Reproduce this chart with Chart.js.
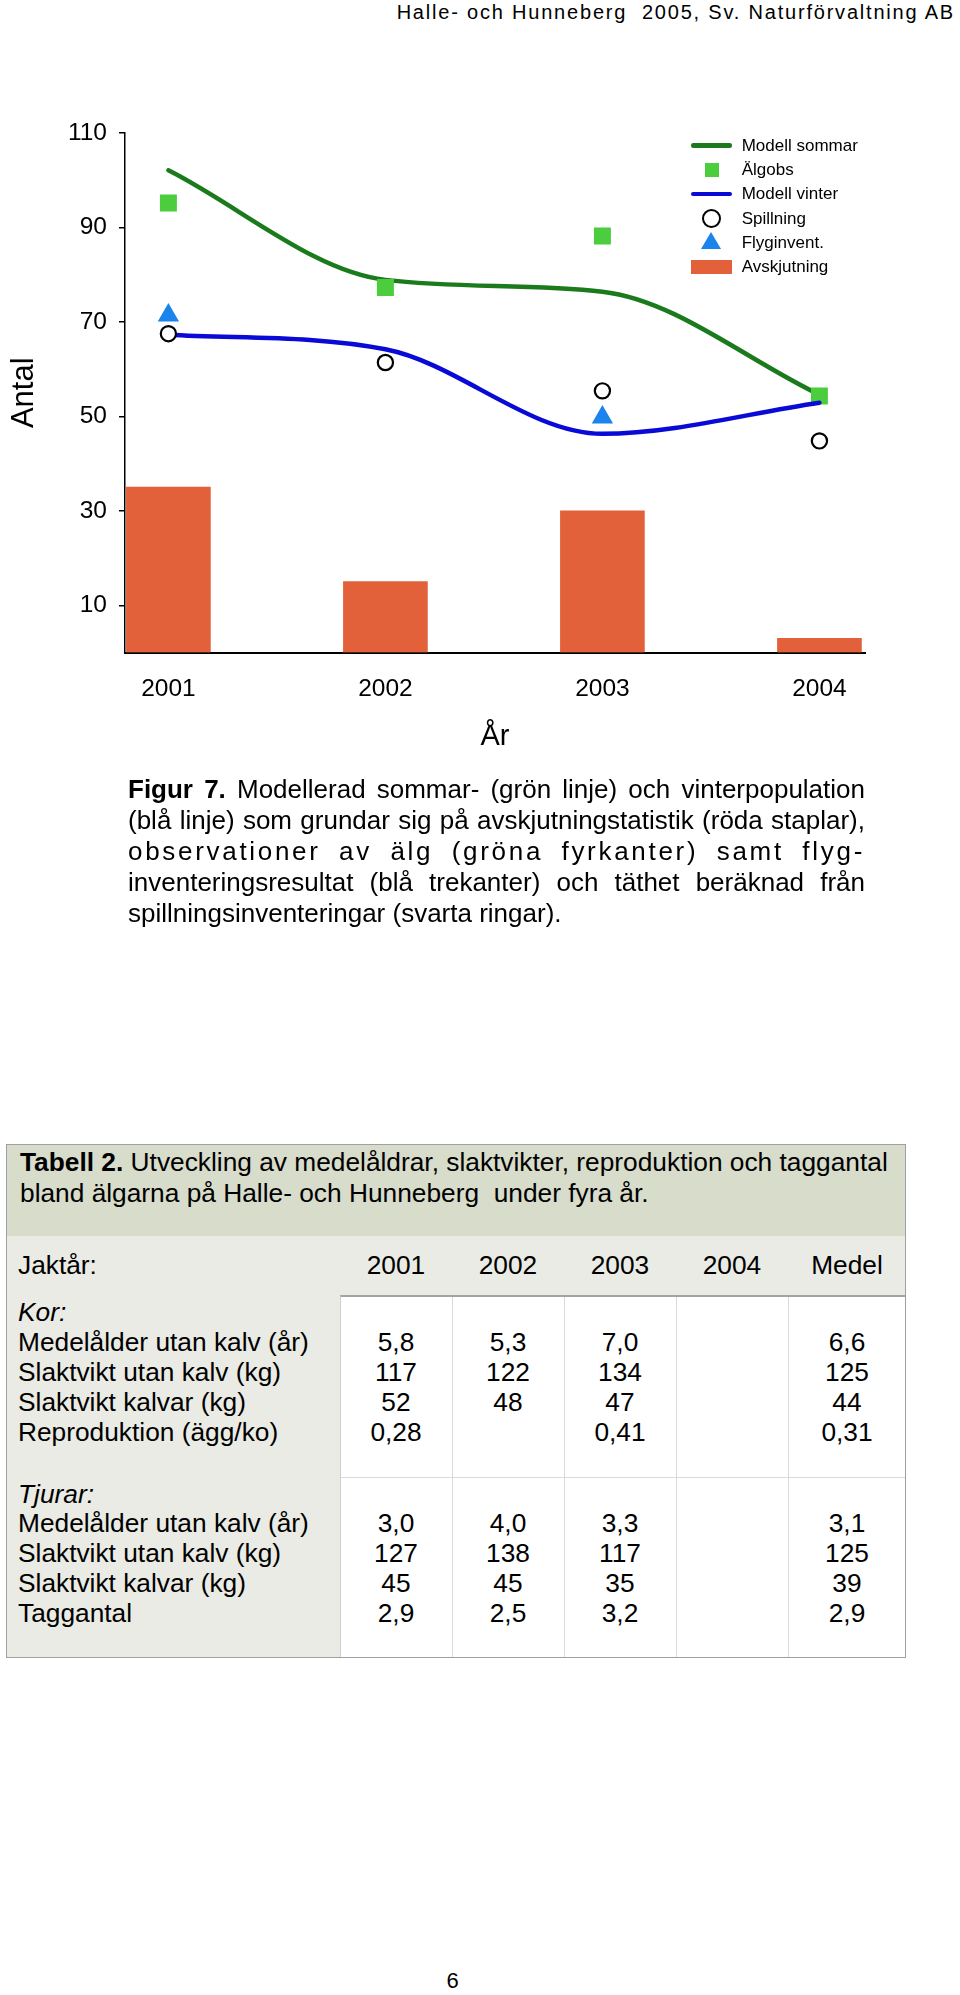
<!DOCTYPE html>
<html>
<head>
<meta charset="utf-8">
<script src="https://cdn.jsdelivr.net/npm/chart.js@4/dist/chart.umd.min.js"></script>
<style>
html,body{margin:0;padding:0;background:#fff;}
body{width:960px;height:1995px;position:relative;overflow:hidden;font-family:'Liberation Sans',Arial,Helvetica,sans-serif;color:#000;}
.abs{position:absolute;white-space:nowrap;}
.cap{position:absolute;font-size:26px;line-height:31px;}
.j{text-align:justify;text-align-last:justify;}
</style>
</head>
<body>
<div class="abs" style="right:5px;top:0;font-size:20px;line-height:24px;letter-spacing:1.8px;">Halle- och Hunneberg&nbsp; 2005, Sv. Naturförvaltning AB</div>

<div id="chartBox" style="position:absolute;left:0;top:100px;width:960px;height:680px;"><canvas id="c"></canvas></div>
<div id="legend"></div>

<div class="cap" style="left:128px;top:773.5px;width:737px;">
  <div class="j"><b>Figur 7.</b> Modellerad sommar- (grön linje) och vinterpopulation</div>
  <div class="j">(blå linje) som grundar sig på avskjutningstatistik (röda staplar),</div>
  <div class="j" style="letter-spacing:2.7px;">observationer av älg (gröna fyrkanter) samt flyg-</div>
  <div class="j">inventeringsresultat (blå trekanter) och täthet beräknad från</div>
  <div>spillningsinventeringar (svarta ringar).</div>
</div>

<div id="table"></div>

<div class="abs" style="left:440px;top:1966px;width:25px;text-align:center;font-size:22px;line-height:30px;">6</div>

<script>
// ---------- chart data ----------
const years = [2001, 2002, 2003, 2004];
const yearLabels = ['2001', '2002', '2003', '2004'];
const yTickValues = [10, 30, 50, 70, 90, 110];
const modellSommar = [102.1, 78.9, 76.4, 54.6];
const algobs = [95.2, 77.3, 88.2, 54.3];
const modellVinter = [67.3, 64.2, 46.3, 52.9];
const spillning = [67.5, 61.4, 55.4, 44.8];
const flyginvent = [71.4, null, 49.8, null];
const avskjutning = [35, 15, 30, 3];

// ---------- table data ----------
const tableTitleBold = 'Tabell 2.';
const tableTitleLine1 = ' Utveckling av medelåldrar, slaktvikter, reproduktion och taggantal';
const tableTitleLine2 = 'bland älgarna på Halle- och Hunneberg\u00a0 under fyra år.';
const tableHeaderLabel = 'Jaktår:';
const tableColumns = ['2001', '2002', '2003', '2004', 'Medel'];
const korLabel = 'Kor:';
const korRowLabels = ['Medelålder utan kalv (år)', 'Slaktvikt utan kalv (kg)', 'Slaktvikt kalvar (kg)', 'Reproduktion (ägg/ko)'];
const korValues = [
  ['5,8', '5,3', '7,0', '', '6,6'],
  ['117', '122', '134', '', '125'],
  ['52', '48', '47', '', '44'],
  ['0,28', '', '0,41', '', '0,31']
];
const tjurLabel = 'Tjurar:';
const tjurRowLabels = ['Medelålder utan kalv (år)', 'Slaktvikt utan kalv (kg)', 'Slaktvikt kalvar (kg)', 'Taggantal'];
const tjurValues = [
  ['3,0', '4,0', '3,3', '', '3,1'],
  ['127', '138', '117', '', '125'],
  ['45', '45', '35', '', '39'],
  ['2,9', '2,5', '3,2', '', '2,9']
];

const FONT = "'Liberation Sans', Arial, Helvetica, sans-serif";
Chart.defaults.font.family = FONT;
Chart.defaults.color = '#000';

const toXY = arr => years.map((yr, i) => ({x: yr, y: arr[i]}));

const datasets = [
  {type: 'line', label: 'Modell sommar', data: toXY(modellSommar), borderColor: '#1b7a1b', borderWidth: 4.5,
   pointRadius: 0, cubicInterpolationMode: 'monotone', fill: false, borderCapStyle: 'round', order: 5},
  {type: 'scatter', label: 'Älgobs', data: toXY(algobs), pointStyle: 'rect', pointRadius: 12,
   pointBackgroundColor: '#4ccd3e', backgroundColor: '#4ccd3e', pointBorderWidth: 0, borderWidth: 0, order: 4},
  {type: 'line', label: 'Modell vinter', data: toXY(modellVinter), borderColor: '#0a0ad6', borderWidth: 4.5,
   pointRadius: 0, cubicInterpolationMode: 'monotone', fill: false, borderCapStyle: 'round', order: 3},
  {type: 'scatter', label: 'Spillning', data: toXY(spillning), pointStyle: 'circle', pointRadius: 7.6,
   pointBackgroundColor: '#ffffff', pointBorderColor: '#000000', pointBorderWidth: 2.2, order: 2},
  {type: 'scatter', label: 'Flyginvent.', data: toXY(flyginvent), pointStyle: 'triangle', pointRadius: 12.3,
   pointBackgroundColor: '#1a84ec', backgroundColor: '#1a84ec', pointBorderWidth: 0, borderWidth: 0, order: 1},
  {type: 'bar', label: 'Avskjutning', data: toXY(avskjutning), backgroundColor: '#e2603a', barThickness: 84, order: 6}
];

const chart = new Chart(document.getElementById('c'), {
  type: 'bar',
  data: {datasets},
  options: {
    responsive: true,
    maintainAspectRatio: false,
    devicePixelRatio: 1,
    animation: false,
    events: [],
    layout: {padding: {top: 33, right: 95, bottom: 0, left: 0}},
    plugins: {legend: {display: false}, tooltip: {enabled: false}},
    scales: {
      x: {
        type: 'linear', min: 2000.8, max: 2004.21, offset: false,
        afterBuildTicks: s => { s.ticks = years.map(v => ({value: v})); },
        afterFit: s => { s.height = 127.5; },
        ticks: {font: {size: 24.5}, color: '#000', padding: 14.3, autoSkip: false,
                callback: v => yearLabels[years.indexOf(v)]},
        grid: {display: false, offset: false},
        border: {display: true, color: '#000', width: 2},
        title: {display: true, text: 'År', font: {size: 29}, color: '#000', padding: {top: 0, bottom: 25.9}}
      },
      y: {
        type: 'linear', min: 0, max: 110,
        afterBuildTicks: s => { s.ticks = yTickValues.map(v => ({value: v})); },
        afterFit: s => { s.width = 125; },
        ticks: {font: {size: 24.5}, color: '#000', padding: 12},
        grid: {display: true, drawOnChartArea: false, drawTicks: true, tickLength: 6, color: '#000', lineWidth: 1.5},
        border: {display: true, color: '#000', width: 1.5},
        title: {display: true, text: 'Antal', font: {size: 31}, color: '#000', padding: {top: 5.7, bottom: 0}}
      }
    }
  }
});

// ---------- HTML legend built from the chart's datasets ----------
(function buildLegend() {
  const box = document.getElementById('legend');
  const MX = 711.7, TX = 741.7, Y0 = 145.6, DY = 24.3;
  chart.data.datasets.forEach((ds, i) => {
    const cy = Y0 + DY * i;
    const m = document.createElement('div');
    m.style.position = 'absolute';
    m.style.boxSizing = 'border-box';
    let w, h;
    if (ds.type === 'line') {
      w = 41; h = 4.5; m.style.background = ds.borderColor; m.style.borderRadius = '2.2px';
    } else if (ds.type === 'bar') {
      w = 40.7; h = 13.3; m.style.background = ds.backgroundColor;
    } else if (ds.pointStyle === 'rect') {
      w = 14; h = 13.5; m.style.background = ds.pointBackgroundColor;
    } else if (ds.pointStyle === 'circle') {
      w = 19; h = 19; m.style.background = ds.pointBackgroundColor;
      m.style.border = '2.2px solid ' + ds.pointBorderColor; m.style.borderRadius = '50%';
    } else if (ds.pointStyle === 'triangle') {
      w = 20.8; h = 17;
      m.style.width = '0px'; m.style.height = '0px';
      m.style.borderLeft = '10.4px solid transparent';
      m.style.borderRight = '10.4px solid transparent';
      m.style.borderBottom = '17px solid ' + ds.pointBackgroundColor;
      m.style.left = (MX - w / 2) + 'px';
      m.style.top = (cy - 10.5) + 'px';
      box.appendChild(m);
    }
    if (ds.pointStyle !== 'triangle' || ds.type === 'line') {
      m.style.width = w + 'px'; m.style.height = h + 'px';
      m.style.left = (MX - w / 2) + 'px';
      m.style.top = (cy - h / 2) + 'px';
      box.appendChild(m);
    }
    const t = document.createElement('div');
    t.className = 'abs';
    t.textContent = ds.label;
    t.style.left = TX + 'px';
    t.style.top = (cy - 12) + 'px';
    t.style.lineHeight = '24px';
    t.style.fontSize = '17px';
    box.appendChild(t);
  });
})();

// ---------- table ----------
(function buildTable() {
  const T = document.getElementById('table');
  function rect(x, y, w, h, css) {
    const d = document.createElement('div');
    d.style.position = 'absolute';
    d.style.left = x + 'px'; d.style.top = y + 'px';
    d.style.width = w + 'px'; d.style.height = h + 'px';
    d.style.boxSizing = 'border-box';
    Object.assign(d.style, css || {});
    T.appendChild(d);
    return d;
  }
  function text(content, x, cy, o) {
    o = o || {};
    const d = document.createElement('div');
    d.className = 'abs';
    if (o.html) d.innerHTML = content; else d.textContent = content;
    const lh = o.lh || 30;
    d.style.left = x + 'px';
    d.style.top = (cy - lh / 2) + 'px';
    d.style.lineHeight = lh + 'px';
    d.style.fontSize = (o.size || 26.3) + 'px';
    if (o.italic) d.style.fontStyle = 'italic';
    if (o.center) d.style.transform = 'translateX(-50%)';
    T.appendChild(d);
  }
  const L = 6, TOP = 1144, R = 906, B = 1658;
  rect(L, TOP, R - L, B - TOP, {background: '#eaebe4'});
  rect(L, TOP, R - L, 92, {background: '#d8dccb'});
  rect(340, 1295, R - 340, B - 1295, {background: '#ffffff', borderTop: '2px solid #a3a3a3', borderLeft: '1px solid #cfcfcf'});
  [452, 564, 676, 788].forEach(x => rect(x, 1297, 1, B - 1297, {background: '#dadada'}));
  rect(341, 1477, R - 341, 1, {background: '#dadada'});
  rect(L, TOP, R - L, B - TOP, {border: '1.5px solid #a0a0a0'});

  const LX = 18;
  const colX = [396, 508, 620, 732, 847];
  text('<b>' + tableTitleBold + '</b>' + tableTitleLine1, 20, 1161.7, {html: true, size: 26.3});
  text(tableTitleLine2, 20, 1193, {size: 26.3});
  text(tableHeaderLabel, LX, 1265);
  tableColumns.forEach((c, j) => text(c, colX[j], 1265, {center: true}));

  text(korLabel, LX, 1311.7, {italic: true});
  korRowLabels.forEach((lab, i) => {
    const cy = 1341.7 + 30 * i;
    text(lab, LX, cy);
    korValues[i].forEach((v, j) => { if (v) text(v, colX[j], cy, {center: true}); });
  });
  text(tjurLabel, LX, 1494, {italic: true});
  tjurRowLabels.forEach((lab, i) => {
    const cy = 1523.3 + 30 * i;
    text(lab, LX, cy);
    tjurValues[i].forEach((v, j) => { if (v) text(v, colX[j], cy, {center: true}); });
  });
})();
</script>
</body>
</html>
